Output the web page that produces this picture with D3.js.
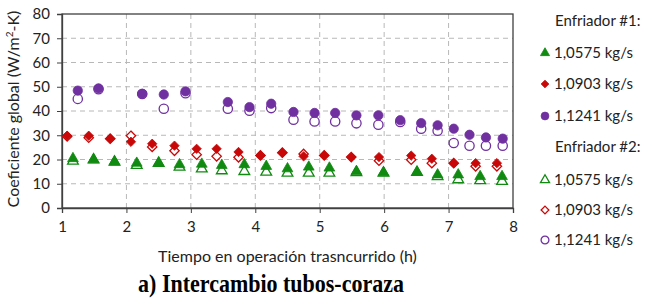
<!DOCTYPE html>
<html>
<head>
<meta charset="utf-8">
<script src="https://cdn.jsdelivr.net/npm/d3@7"></script>
<style>
  body { margin: 0; background: #fff; }
  text { font-family: Lato, "Noto Sans", sans-serif; }
</style>
</head>
<body>
<div id="chart"></div>
<script>
// values
const flows = ["1,0575 kg/s", "1,0903 kg/s", "1,1241 kg/s"];

const t_green = [1.17, 1.49, 1.815, 2.16, 2.50, 2.824, 3.17, 3.48, 3.83, 4.17, 4.50, 4.83, 5.15, 5.57, 5.99, 6.51, 6.83, 7.15, 7.49, 7.83];
const e1_green = [20.4, 19.9, 19.0, 18.5, 18.5, 17.9, 18.1, 17.6, 17.9, 17.2, 16.2, 16.9, 16.5, 15.1, 14.6, 14.7, 13.7, 13.7, 13.0, 13.0];
const e2_green = [19.4, 19.9, 19.0, 17.6, 18.5, 16.9, 16.2, 15.4, 15.1, 14.8, 14.4, 14.4, 14.4, 14.6, 14.4, 14.7, 13.0, 11.7, 11.3, 11.0];

const t_red = [1.08, 1.415, 1.748, 2.07, 2.40, 2.746, 3.09, 3.40, 3.74, 4.08, 4.42, 4.75, 5.07, 5.49, 5.92, 6.42, 6.74, 7.08, 7.42, 7.75];
const e1_red = [29.8, 29.8, 28.6, 27.3, 26.5, 25.7, 24.4, 24.4, 23.1, 21.7, 22.8, 21.3, 21.7, 21.0, 21.0, 21.6, 20.3, 18.5, 18.5, 18.5];
const e2_red = [29.5, 29.0, 28.6, 29.8, 25.2, 23.6, 22.0, 21.3, 20.9, 21.7, 22.8, 22.3, 21.7, 21.0, 19.5, 19.9, 18.5, 18.5, 17.2, 17.2];

const t_purple = [1.245, 1.567, 2.245, 2.58, 2.917, 3.574, 3.91, 4.247, 4.593, 4.92, 5.24, 5.57, 5.91, 6.25, 6.575, 6.83, 7.08, 7.325, 7.58, 7.84];
const e1_purple = [48.4, 49.3, 47.1, 46.8, 48.1, 43.7, 41.6, 43.0, 39.6, 39.2, 39.2, 38.2, 38.2, 36.2, 35.0, 34.1, 32.7, 30.2, 29.1, 28.6];
const e2_purple = [45.0, 49.0, 47.0, 40.9, 47.3, 40.9, 40.1, 41.2, 36.4, 35.7, 35.7, 34.9, 34.3, 35.5, 32.7, 31.9, 26.8, 25.7, 25.7, 25.7];

const x_ticks = [1, 2, 3, 4, 5, 6, 7, 8];
const y_ticks = [0, 10, 20, 30, 40, 50, 60, 70, 80];

const colors = {green: "#118a11", red: "#c80808", purple: "#7030a0"};

const margin = {top: 14, right: 137, bottom: 94, left: 62},
  width = 650 - margin.left - margin.right,
  height = 302 - margin.top - margin.bottom;

const svg = d3.select("#chart")
  .append("svg")
  .attr("width", 650)
  .attr("height", 302);

const g = svg.append("g")
  .attr("transform", `translate(${margin.left},${margin.top})`);

const x = d3.scaleLinear().domain([1, 8]).range([0, width]);
const y = d3.scaleLinear().domain([0, 80]).range([height, 0]);

// grid
g.append("g")
  .selectAll("line")
  .data(y_ticks.slice(1, -1))
  .join("line")
  .attr("x1", 0).attr("x2", width)
  .attr("y1", d => y(d)).attr("y2", d => y(d))
  .attr("stroke", "#b8b8b8").attr("stroke-dasharray", "5,4");
g.append("g")
  .selectAll("line")
  .data(x_ticks.slice(1, -1))
  .join("line")
  .attr("y1", 0).attr("y2", height)
  .attr("x1", d => x(d)).attr("x2", d => x(d))
  .attr("stroke", "#b8b8b8").attr("stroke-dasharray", "5,4");

// frame
g.append("rect")
  .attr("width", width).attr("height", height)
  .attr("fill", "none").attr("stroke", "#404040").attr("stroke-width", 1.3);

// axes
const xAxis = g.append("g")
  .attr("transform", `translate(0,${height})`)
  .call(d3.axisBottom(x).tickValues(x_ticks).tickSize(5).tickPadding(8).tickFormat(d3.format("d")));
const yAxis = g.append("g")
  .call(d3.axisLeft(y).tickValues(y_ticks).tickSize(5).tickPadding(7));
[xAxis, yAxis].forEach(a => {
  a.select(".domain").attr("stroke", "#404040").attr("stroke-width", 1.3);
  a.selectAll(".tick line").attr("stroke", "#404040");
  a.selectAll(".tick text").attr("font-size", 15).attr("fill", "#222")
    .attr("font-family", "Lato, 'Noto Sans', sans-serif");
});

// diamond as a rotated square (as wide as it is tall)
const diamond = {
  draw(ctx, size) {
    const r = Math.sqrt(size / 2);
    ctx.moveTo(0, -r); ctx.lineTo(r, 0); ctx.lineTo(0, r); ctx.lineTo(-r, 0); ctx.closePath();
  }
};

// marker shapes
const sym = {
  green: d3.symbol().type(d3.symbolTriangle).size(50),
  red: d3.symbol().type(diamond).size(44),
  purple: d3.symbol().type(d3.symbolCircle).size(68)
};
const legendSym = {
  green: d3.symbol().type(d3.symbolTriangle).size(36),
  red: d3.symbol().type(diamond).size(30),
  purple: d3.symbol().type(d3.symbolCircle).size(48)
};

function drawSeries(xs, ys, key, filled) {
  g.append("g")
    .selectAll("path")
    .data(xs.map((d, i) => ({t: d, v: ys[i]})))
    .join("path")
    .attr("d", sym[key])
    .attr("transform", d => `translate(${x(d.t)},${y(d.v)})`)
    .attr("fill", filled ? colors[key] : "#fff")
    .attr("stroke", colors[key])
    .attr("stroke-width", filled ? 0.8 : 1.3);
}

// Enfriador #2 (open) under Enfriador #1 (filled)
drawSeries(t_green, e2_green, "green", false);
drawSeries(t_red, e2_red, "red", false);
drawSeries(t_purple, e2_purple, "purple", false);
drawSeries(t_green, e1_green, "green", true);
drawSeries(t_red, e1_red, "red", true);
drawSeries(t_purple, e1_purple, "purple", true);

// axis titles
svg.append("text")
  .attr("transform", `translate(19,${margin.top + height / 2 - 2}) rotate(-90)`)
  .attr("text-anchor", "middle")
  .attr("font-size", 16).attr("fill", "#222")
  .call(t => {
    t.append("tspan").text("Coeficiente global (W/m");
    t.append("tspan").text("2").attr("font-size", 10).attr("dy", -6);
    t.append("tspan").text("-K)").attr("dy", 6);
  });

svg.append("text")
  .attr("x", margin.left + width / 2).attr("y", 262)
  .attr("text-anchor", "middle")
  .attr("font-size", 16).attr("fill", "#222")
  .text("Tiempo en operación trasncurrido (h)");

svg.append("text")
  .attr("transform", "translate(271,292) scale(1,1.15)")
  .attr("text-anchor", "middle")
  .style("font-family", "'Liberation Serif', 'Times New Roman', serif")
  .attr("font-weight", "bold")
  .attr("font-size", 22).attr("fill", "#000")
  .text("a) Intercambio tubos-coraza");

// legend
const keys = ["green", "red", "purple"];
const rows = [];
rows.push({head: "Enfriador #1:"});
keys.forEach((k, i) => rows.push({key: k, label: flows[i], filled: true}));
rows.push({head: "Enfriador #2:"});
keys.forEach((k, i) => rows.push({key: k, label: flows[i], filled: false}));
const rowY = [21, 53, 84, 116, 147, 180, 210, 240];

const leg = svg.append("g");
rows.forEach((r, i) => {
  const yy = rowY[i];
  if (r.head) {
    leg.append("text").attr("x", 555).attr("y", yy + 5)
      .attr("font-size", 15).attr("fill", "#222").text(r.head);
  } else {
    leg.append("path")
      .attr("d", legendSym[r.key])
      .attr("transform", `translate(545,${yy})`)
      .attr("fill", r.filled ? colors[r.key] : "#fff")
      .attr("stroke", colors[r.key])
      .attr("stroke-width", r.filled ? 0.8 : 1.3);
    leg.append("text").attr("x", 554).attr("y", yy + 5)
      .attr("font-size", 15).attr("fill", "#222").text(r.label);
  }
});
</script>
</body>
</html>
